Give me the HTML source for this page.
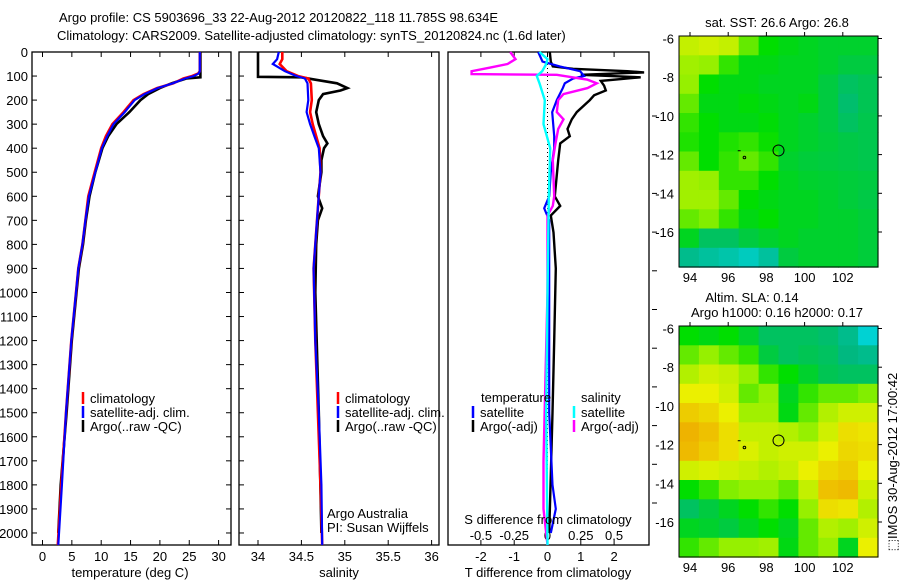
<!DOCTYPE html>
<html><head><meta charset="utf-8"><style>
html,body{margin:0;padding:0;background:#fff;}
svg{display:block;font-family:"Liberation Sans",sans-serif;}
text{font-size:13px;fill:#000;}
</style></head><body>
<svg id="fig" width="900" height="580" viewBox="0 0 900 580" xmlns="http://www.w3.org/2000/svg">
<text x="59" y="22" font-size="13">Argo profile: CS 5903696_33 22-Aug-2012 20120822_118 11.785S 98.634E</text>
<text x="57" y="40" font-size="13">Climatology: CARS2009. Satellite-adjusted climatology: synTS_20120824.nc (1.6d later)</text>
<g id="g1"></g>
<g id="g2"></g>
<g id="g3"></g>
<g id="m1"></g>
<g id="m2"></g>
<text transform="translate(897,462) rotate(-90)" text-anchor="middle" font-size="13">⬚IMOS 30-Aug-2012 17:00:42</text>
</svg>
<script>
// ---- temperature profile data ----
const tDepth=[0,80,90,100,110,130,150,175,200,250,300,350,400,500,600,700,800,900,1000,1200,1500,1800,2050];
const tClim=[26.8,26.8,26.5,25.5,24,22.3,19.5,17.2,15.5,13.8,11.9,10.8,10,8.9,7.8,7.3,6.8,6.1,5.7,4.9,4.0,3.2,2.6];
const tSat=[26.8,26.8,26.6,25.8,24.3,22.2,19.6,17.4,15.7,14.0,12.1,11.0,10.1,9.0,7.9,7.3,6.8,6.1,5.7,4.9,4.0,3.3,2.7];
const tArgoDepth=[0,105,110,130,150,175,200,250,300,350,400,500,600,700,800,900,1000,1200,1500,1800,2000];
const tArgo=[26.9,26.9,24.5,22.0,20.0,18.0,16.7,14.8,12.6,11.2,10.2,9.0,8.0,7.4,6.9,6.2,5.8,5.0,4.1,3.1,2.7];
const tTicks=[0,5,10,15,20,25,30];
// ---- salinity profile data ----
const sDepth=[0,30,50,80,100,110,130,200,250,300,350,400,500,700,900,1200,1500,1800,2050];
const sClim=[34.28,34.28,34.25,34.33,34.46,34.58,34.61,34.62,34.60,34.63,34.67,34.71,34.72,34.68,34.64,34.66,34.69,34.72,34.74];
const sSat=[34.24,34.22,34.17,34.31,34.44,34.54,34.57,34.58,34.56,34.60,34.65,34.70,34.72,34.68,34.64,34.66,34.70,34.73,34.74];
const sArgoDepth=[0,103,105,115,130,150,160,175,200,250,300,350,380,400,450,500,600,650,700,800,1000,1500,2000];
const sArgo=[34.0,34.0,34.5,34.66,34.91,35.03,34.95,34.75,34.7,34.67,34.7,34.75,34.8,34.76,34.73,34.73,34.69,34.74,34.69,34.67,34.66,34.7,34.73];
const sTicks=[34,34.5,35,35.5,36];
const sTickLabels=["34","34.5","35","35.5","36"];
// ---- difference data ----
const dtSatDepth=[0,40,60,80,100,110,130,150,200,250,300,350,400,500,600,650,700,1000,1500,1800,1900,2000];
const dtSat=[-0.28,-0.15,0.37,0.98,1.1,0.77,0.52,0.46,0.28,0.14,0.17,0.2,0.2,0.1,0.05,-0.1,0.05,0.05,0.05,0.15,0.25,0.1];
const dtArgoDepth=[0,40,60,70,80,85,95,105,120,140,160,180,200,250,280,320,350,380,450,600,640,680,750,900,1200,1500,2000];
const dtArgo=[0.07,0.1,0.16,0.77,2.4,2.9,1.0,2.8,1.6,1.7,1.75,1.4,1.27,0.88,0.73,0.6,0.67,0.38,0.32,0.22,0.38,0.1,0.18,0.25,0.2,0.15,0.05];
const dsArgoDepth=[0,30,50,65,80,92,95,115,130,150,175,200,250,280,320,380,450,600,640,680,1000,1700,1900,2050];
const dsArgo=[-0.28,-0.24,-0.3,-0.43,-0.57,-0.57,0.07,0.3,0.37,0.3,0.12,0.08,0.07,0.12,0.08,0.06,0.04,0.05,0.04,0.0,0.0,-0.03,-0.03,0.0];
const dsSatDepth=[0,30,50,80,100,130,200,300,400,600,1000,1500,2050];
const dsSat=[-0.06,0,-0.01,-0.04,-0.08,-0.06,-0.02,-0.03,0.02,0.01,0,-0.01,0];
const dTTicks=[-2,-1,0,1,2];
const dSTicks=[-0.5,-0.25,0,0.25,0.5];
const dSTickLabels=["-0.5","-0.25","0","0.25","0.5"];
const depthTicks=[0,100,200,300,400,500,600,700,800,900,1000,1100,1200,1300,1400,1500,1600,1700,1800,1900,2000];
// ---- map data (rows lat -6..-17, cols lon 93.9..103.3) ----
const sstGrid=[
[0.68,0.7,0.68,0.55,0.45,0.42,0.4,0.38,0.38,0.38],
[0.62,0.6,0.5,0.42,0.42,0.4,0.4,0.38,0.35,0.35],
[0.6,0.45,0.42,0.42,0.4,0.4,0.4,0.35,0.3,0.32],
[0.55,0.42,0.42,0.44,0.42,0.4,0.42,0.35,0.28,0.32],
[0.5,0.45,0.42,0.42,0.44,0.4,0.38,0.35,0.3,0.33],
[0.48,0.45,0.48,0.5,0.46,0.4,0.38,0.36,0.34,0.33],
[0.55,0.45,0.5,0.55,0.5,0.38,0.36,0.35,0.34,0.33],
[0.62,0.6,0.5,0.5,0.45,0.4,0.38,0.37,0.36,0.35],
[0.62,0.62,0.55,0.45,0.42,0.4,0.4,0.38,0.36,0.34],
[0.55,0.58,0.5,0.42,0.45,0.4,0.4,0.38,0.38,0.36],
[0.4,0.3,0.3,0.35,0.38,0.4,0.38,0.38,0.38,0.36],
[0.22,0.18,0.15,0.1,0.18,0.35,0.38,0.38,0.38,0.36]];
const slaGrid=[
[0.45,0.42,0.45,0.38,0.3,0.3,0.3,0.28,0.22,0.05],
[0.55,0.6,0.55,0.5,0.35,0.3,0.32,0.3,0.25,0.22],
[0.65,0.7,0.68,0.6,0.5,0.45,0.38,0.32,0.3,0.3],
[0.75,0.75,0.7,0.55,0.6,0.4,0.5,0.55,0.55,0.58],
[0.85,0.82,0.75,0.62,0.62,0.42,0.55,0.65,0.7,0.7],
[0.92,0.88,0.8,0.68,0.68,0.65,0.6,0.7,0.8,0.78],
[0.9,0.85,0.8,0.72,0.68,0.7,0.7,0.75,0.82,0.8],
[0.7,0.72,0.7,0.68,0.65,0.68,0.75,0.82,0.85,0.75],
[0.45,0.5,0.58,0.6,0.6,0.55,0.68,0.88,0.9,0.7],
[0.3,0.35,0.4,0.45,0.5,0.45,0.6,0.8,0.78,0.65],
[0.4,0.38,0.35,0.4,0.45,0.4,0.55,0.65,0.62,0.7],
[0.5,0.55,0.6,0.6,0.62,0.42,0.55,0.6,0.4,0.75]];
const lonTicks=[94,96,98,100,102];
const latTicks=[-6,-8,-10,-12,-14,-16];
const argoLon=98.634, argoLat=-11.785;

const NS="http://www.w3.org/2000/svg";
function el(parent,tag,attrs,txt){const e=document.createElementNS(NS,tag);for(const k in attrs)e.setAttribute(k,attrs[k]);if(txt!==undefined)e.textContent=txt;parent.appendChild(e);return e;}
const TOP=52,BOT=545;
const yD=d=>TOP+d*(BOT-TOP)/2050;

function frame(g,x0,x1,leftLabels){
  const r=el(g,'rect',{x:x0,y:TOP,width:x1-x0,height:BOT-TOP,fill:'none',stroke:'#000','stroke-width':1.3});
  
  
  depthTicks.forEach(d=>{
    const y=yD(d);
    const t=el(g,'line',{x1:x0,x2:x0+5,y1:y,y2:y,stroke:'#000'});
    
    
    if(leftLabels){
      const t2=el(g,'line',{x1:x1-5,x2:x1,y1:y,y2:y,stroke:'#000'});
      
      
      const l=el(g,'text',{x:x0-4,y:y+5,'text-anchor':'end'},String(d));
      
      
    }
  });
}
function xticks(g,xs,labels,fx,ly){
  xs.forEach((v,i)=>{const x=fx(v);
    const a=el(g,'line',{x1:x,x2:x,y1:TOP,y2:TOP+5,stroke:'#000'});
    
    
    const b=el(g,'line',{x1:x,x2:x,y1:BOT-5,y2:BOT,stroke:'#000'});
    
    
    if(labels){const l=el(g,'text',{x:x,y:ly,'text-anchor':'middle'},labels[i]);
      
      }
  });
}
function series(g,depths,vals,fx,color,w,name){
  const pts=depths.map((d,i)=>fx(vals[i]).toFixed(1)+','+yD(d).toFixed(1)).join(' ');
  const p=el(g,'polyline',{points:pts,fill:'none',stroke:color,'stroke-width':w,'stroke-linejoin':'miter'});
  
  
}
function legend(g,x,y,items){
  items.forEach((it,i)=>{
    const l=el(g,'line',{x1:x,x2:x,y1:y+i*14-6,y2:y+i*14+6,stroke:it[1],'stroke-width':2.5});
    
    
    const t=el(g,'text',{x:x+7,y:y+i*14+5},it[0]);
    
    
  });
}
// Panel 1
const g1=document.getElementById('g1');
const fT=v=>42.5+v*5.87;
frame(g1,32,231,true);
xticks(g1,tTicks,tTicks.map(String),fT,561);
series(g1,tArgoDepth,tArgo,fT,'#000',2.6,'argo-temperature-line');
series(g1,tDepth,tClim,fT,'#ff0000',2.6,'climatology-temperature-line');
series(g1,tDepth,tSat,fT,'#0000ff',2.2,'satellite-temperature-line');
legend(g1,83,398,[['climatology','#f00'],['satellite-adj. clim.','#00f'],['Argo(..raw -QC)','#000']]);
let xl=el(g1,'text',{x:130,y:577,'text-anchor':'middle'},'temperature (deg C)');


// Panel 2
const g2=document.getElementById('g2');
const fS=v=>258+(v-34)*86.8;
frame(g2,239,439,false);
xticks(g2,sTicks,sTickLabels,fS,561);
series(g2,sArgoDepth,sArgo,fS,'#000',2.6,'argo-salinity-line');
series(g2,sDepth,sClim,fS,'#ff0000',2.6,'climatology-salinity-line');
series(g2,sDepth,sSat,fS,'#0000ff',2.2,'satellite-salinity-line');
legend(g2,338,398,[['climatology','#f00'],['satellite-adj. clim.','#00f'],['Argo(..raw -QC)','#000']]);
let a1=el(g2,'text',{x:327,y:518},'Argo Australia');


let a2=el(g2,'text',{x:327,y:532},'PI: Susan Wijffels');


xl=el(g2,'text',{x:339,y:577,'text-anchor':'middle'},'salinity');


// Panel 3
const g3=document.getElementById('g3');
const fDT=v=>547.5+v*33.3;
const fDS=v=>547.5+v*133.2;
const r3=el(g3,'rect',{x:448,y:TOP,width:201,height:BOT-TOP,fill:'none',stroke:'#000','stroke-width':1.3});


for(let y=116;y<=525;y+=38.7){const t=el(g3,'line',{x1:652,x2:657,y1:y,y2:y,stroke:'#000'});
  
  }
xticks(g3,dTTicks,dTTicks.map(String),fDT,561);
dSTicks.forEach((v,i)=>{const t=el(g3,'text',{x:fDS(v),y:540,'text-anchor':'middle'},dSTickLabels[i]);
  
  });
const z=el(g3,'line',{x1:fDT(0),x2:fDT(0),y1:TOP,y2:BOT,stroke:'#000','stroke-dasharray':'1,3'});


series(g3,dtArgoDepth,dtArgo,fDT,'#000',2.4,'argo-t-difference-line');
series(g3,dtSatDepth,dtSat,fDT,'#0000ff',2.2,'satellite-t-difference-line');
series(g3,dsArgoDepth,dsArgo,fDS,'#ff00ff',2.4,'argo-s-difference-line');
series(g3,dsSatDepth,dsSat,fDS,'#00ffff',2.4,'satellite-s-difference-line');
let lt=el(g3,'text',{x:481,y:402},'temperature');
lt=el(g3,'text',{x:581,y:402},'salinity');
legend(g3,473,412,[['satellite','#00f'],['Argo(-adj)','#000']]);
legend(g3,574,412,[['satellite','#0ff'],['Argo(-adj)','#f0f']]);
lt=el(g3,'text',{x:548,y:524,'text-anchor':'middle'},'S difference from climatology');
lt=el(g3,'text',{x:548,y:577,'text-anchor':'middle'},'T difference from climatology');

// Maps
function cmap(v){
  const stops=[[0,[0,216,232]],[0.25,[0,184,128]],[0.45,[0,222,0]],[0.6,[150,240,0]],[0.75,[235,240,0]],[1,[240,150,0]]];
  for(let i=1;i<stops.length;i++){if(v<=stops[i][0]){const a=stops[i-1],b=stops[i];const t=(v-a[0])/(b[0]-a[0]);
    return 'rgb('+a[1].map((c,k)=>Math.round(c+(b[1][k]-c)*t)).join(',')+')';}}
  return 'rgb(240,150,0)';
}
function drawMap(id,grid,y0,titles){
  const g=document.getElementById(id);
  const X0=679,X1=878,Y1=y0+231;
  const lonX=l=>690+(l-94)*19.1, latY=l=>y0+2.5+(-6-l)*19.35;
  const cw=(X1-X0)/grid[0].length, ch=(Y1-y0)/grid.length;
  grid.forEach((row,r)=>row.forEach((v,c)=>{
    const cell=el(g,'rect',{x:(X0+c*cw).toFixed(1),y:(y0+r*ch).toFixed(1),width:(cw+0.6).toFixed(1),height:(ch+0.6).toFixed(1),fill:cmap(v)});
    
    
  }));
  const fr=el(g,'rect',{x:X0,y:y0,width:X1-X0,height:Y1-y0,fill:'none',stroke:'#000'});
  
  
  lonTicks.forEach(l=>{const x=lonX(l);
    const t=el(g,'line',{x1:x,x2:x,y1:y0-4,y2:y0,stroke:'#000'});
    const tl=el(g,'text',{x:x,y:Y1+15,'text-anchor':'middle'},String(l));});
  latTicks.forEach(l=>{const y=latY(l);
    const t=el(g,'line',{x1:X1,x2:X1+4,y1:y,y2:y,stroke:'#000'});
    const tl=el(g,'text',{x:674,y:y+5,'text-anchor':'end'},String(l));});
  const c=el(g,'circle',{cx:lonX(argoLon),cy:latY(argoLat),r:5.5,fill:'none',stroke:'#000','stroke-width':1});
  
  
  const i1=el(g,'line',{x1:lonX(96.5),x2:lonX(96.65),y1:latY(-11.8),y2:latY(-11.8),stroke:'#000'});
  
  
  const i2=el(g,'circle',{cx:lonX(96.85),cy:latY(-12.15),r:1.3,fill:'none',stroke:'#000'});
  
  
  titles.forEach(tt=>{const t=el(g,'text',{x:tt[1],y:tt[2],'text-anchor':'middle'},tt[0]);
    
    });
}
drawMap('m1',sstGrid,36,[['sat. SST: 26.6 Argo: 26.8',777,27]]);
drawMap('m2',slaGrid,326,[['Altim. SLA: 0.14',752,302],['Argo h1000: 0.16 h2000: 0.17',777,317]]);
</script>
</body></html>
